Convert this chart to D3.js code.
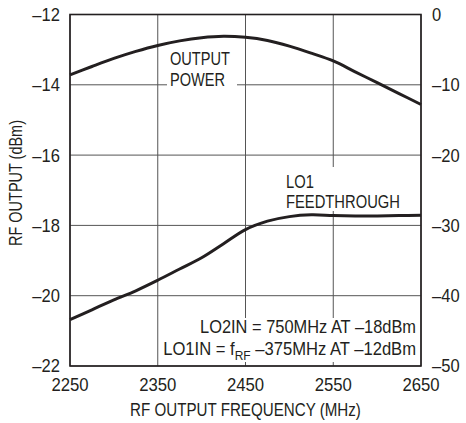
<!DOCTYPE html>
<html><head><meta charset="utf-8">
<script src="https://cdn.jsdelivr.net/npm/d3@7/dist/d3.min.js"></script>
<style>
html,body{margin:0;padding:0;background:#fff;}
svg text{font-family:"Liberation Sans",Arial,sans-serif;fill:#231f20;}
</style></head>
<body><svg id="c" width="466" height="423"></svg>
<script>
const xTicks = [2250, 2350, 2450, 2550, 2650];
const yLeftTicks = [-22, -20, -18, -16, -14, -12];
const yRightTicks = [-50, -40, -30, -20, -10, 0];
const freq = [2250, 2275, 2300, 2325, 2350, 2375, 2400, 2425, 2450, 2475, 2500, 2525, 2550, 2575, 2600, 2625, 2650];
const outputPower = [-13.72, -13.48, -13.25, -13.05, -12.88, -12.75, -12.66, -12.62, -12.65, -12.74, -12.90, -13.10, -13.32, -13.63, -13.94, -14.25, -14.56];
const lo1Feedthrough = [-43.4, -42.0, -40.6, -39.3, -37.8, -36.2, -34.6, -32.6, -30.6, -29.4, -28.75, -28.5, -28.6, -28.65, -28.65, -28.6, -28.55];

const svg = d3.select("#c");
const L = 70, R = 421, T = 14.5, B = 366;
const x = d3.scaleLinear().domain([2250, 2650]).range([L, R]);
const yL = d3.scaleLinear().domain([-22, -12]).range([B, T]);
const yR = d3.scaleLinear().domain([-50, 0]).range([B, T]);
const fmt = v => (v < 0 ? "\u2013" + Math.abs(v) : String(v));
const FS = 18;

// horizontal condensing around an anchor x
function squeeze(sel, k, ax) {
  sel.attr("transform", `translate(${ax},0) scale(${k},1) translate(${-ax},0)`);
}
function squeezeTo(sel, target, ax) {
  const w = sel.node().getBBox().width;
  squeeze(sel, target / w, ax);
}

// grid
const g = svg.append("g");
g.selectAll("line.vx").data(xTicks).join("line")
  .attr("x1", d => x(d)).attr("x2", d => x(d)).attr("y1", T).attr("y2", B)
  .attr("stroke", "#555").attr("stroke-width", 1);
g.selectAll("line.hy").data(yLeftTicks).join("line")
  .attr("y1", d => yL(d)).attr("y2", d => yL(d)).attr("x1", L).attr("x2", R)
  .attr("stroke", "#555").attr("stroke-width", 1);

// label backgrounds
const bgs = [[167, 48, 70, 42], [283, 167, 121, 44], [161, 318, 257, 44]];
svg.selectAll("rect.bg").data(bgs).join("rect")
  .attr("x", d => d[0]).attr("y", d => d[1]).attr("width", d => d[2]).attr("height", d => d[3])
  .attr("fill", "#fff");

// curves
const lineP = d3.line().x((d, i) => x(freq[i])).y(d => yL(d)).curve(d3.curveCatmullRom);
const lineF = d3.line().x((d, i) => x(freq[i])).y(d => yR(d)).curve(d3.curveCatmullRom);
svg.append("path").attr("d", lineP(outputPower)).attr("fill", "none").attr("stroke", "#231f20").attr("stroke-width", 3);
svg.append("path").attr("d", lineF(lo1Feedthrough)).attr("fill", "none").attr("stroke", "#231f20").attr("stroke-width", 3);

// frame
svg.append("rect").attr("x", L).attr("y", T).attr("width", R - L).attr("height", B - T)
  .attr("fill", "none").attr("stroke", "#231f20").attr("stroke-width", 1.6);

// tick labels
svg.selectAll("text.yl").data(yLeftTicks).join("text")
  .attr("x", L - 10).attr("y", d => yL(d)).attr("dy", "0.36em")
  .attr("text-anchor", "end").attr("font-size", FS).text(fmt)
  .each(function () { squeeze(d3.select(this), 0.92, L - 10); });
svg.selectAll("text.yr").data(yRightTicks).join("text")
  .attr("x", R + 11).attr("y", d => yR(d)).attr("dy", "0.36em")
  .attr("text-anchor", "start").attr("font-size", FS).text(fmt)
  .each(function () { squeeze(d3.select(this), 0.92, R + 11); });
svg.selectAll("text.xl").data(xTicks).join("text")
  .attr("x", d => x(d)).attr("y", 391.5)
  .attr("text-anchor", "middle").attr("font-size", FS).text(d => d)
  .each(function (d) { squeeze(d3.select(this), 0.93, x(d)); });

// axis titles
const xt = svg.append("text").attr("x", (L + R) / 2).attr("y", 416.5).attr("text-anchor", "middle")
  .attr("font-size", FS).text("RF OUTPUT FREQUENCY (MHz)");
squeezeTo(xt, 231, (L + R) / 2);
const yt = svg.append("text").attr("text-anchor", "middle").attr("font-size", FS).text("RF OUTPUT (dBm)");
const ytw = yt.node().getBBox().width;
yt.attr("transform", `translate(22,183) rotate(-90) scale(${126 / ytw},1)`);

// annotations
const t1 = svg.append("text").attr("font-size", FS);
t1.append("tspan").attr("x", 170).attr("y", 65).text("OUTPUT");
t1.append("tspan").attr("x", 170).attr("y", 86).text("POWER");
squeezeTo(t1, 60, 170);
const t2 = svg.append("text").attr("font-size", FS);
t2.append("tspan").attr("x", 286).attr("y", 188).text("LO1");
t2.append("tspan").attr("x", 286).attr("y", 208).text("FEEDTHROUGH");
squeezeTo(t2, 114, 286);

const a1 = svg.append("text").attr("x", 416).attr("y", 333).attr("text-anchor", "end").attr("font-size", FS)
  .text("LO2IN = 750MHz AT \u201318dBm");
squeezeTo(a1, 216, 416);
const a2 = svg.append("text").attr("x", 416).attr("y", 355).attr("text-anchor", "end").attr("font-size", FS);
a2.append("tspan").text("LO1IN = f");
a2.append("tspan").attr("font-size", 13).attr("dy", 5).text("RF");
a2.append("tspan").attr("dy", -5).text(" \u2013375MHz AT \u201312dBm");
squeezeTo(a2, 253, 416);
</script></body></html>
